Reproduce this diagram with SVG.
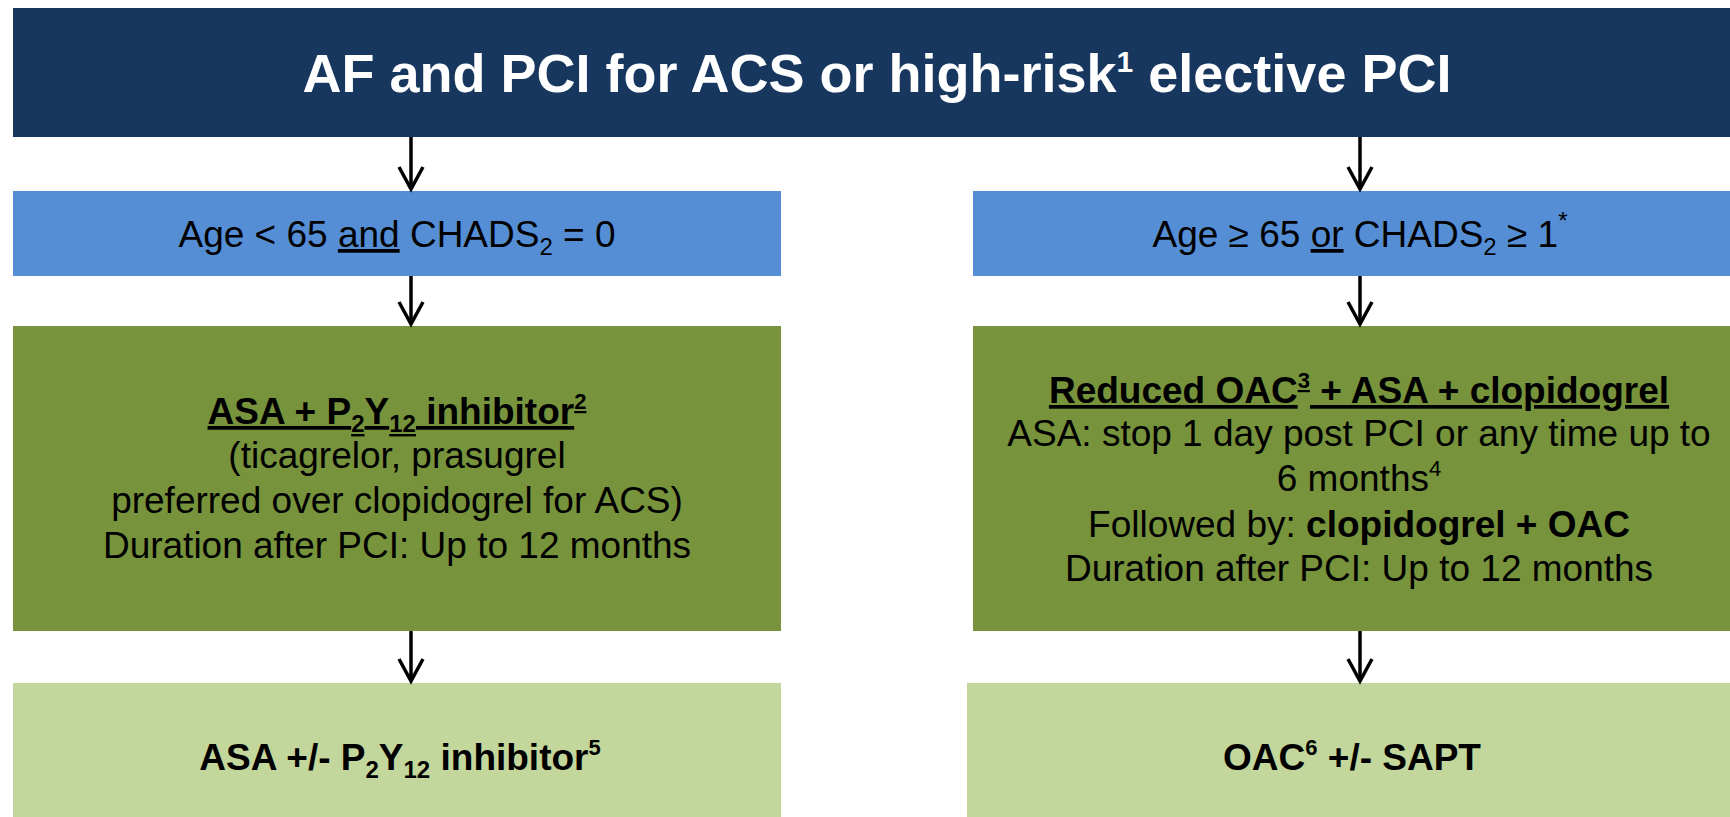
<svg xmlns="http://www.w3.org/2000/svg" width="1730" height="817" viewBox="0 0 1730 817">
<defs>
<style>
.t{font-family:"Liberation Sans",Arial,sans-serif;fill:#000;text-anchor:middle;font-size:37px}
.b{font-weight:bold}
.title{font-family:"Liberation Sans",Arial,sans-serif;fill:#fff;text-anchor:middle;font-size:54px;font-weight:bold}
.u{text-decoration:underline}
.conn{stroke:#000;stroke-width:3.5;fill:none}
</style>
<marker id="ah" viewBox="-26 -15 30 30" markerWidth="30" markerHeight="30" refX="0" refY="0" orient="auto" markerUnits="userSpaceOnUse">
<path d="M-22,-12 L0,0 L-22,12" fill="none" stroke="#000" stroke-width="3.5"/>
</marker>
</defs>
<rect width="1730" height="817" fill="#fff"/>

<g id="title">
<rect x="13" y="8" width="1730" height="129" fill="#17375E"/>
<text class="title" x="877" y="92">AF and PCI for ACS or high-risk<tspan font-size="30" dy="-20">1</tspan><tspan dy="20"> elective PCI</tspan></text>
</g>

<g id="cond-left">
<rect x="13" y="191" width="768" height="85" fill="#558ED5"/>
<text class="t" x="397" y="247">Age &lt; 65 <tspan class="u">and</tspan> CHADS<tspan font-size="24" dy="8">2</tspan><tspan dy="-8"> = 0</tspan></text>
</g>

<g id="cond-right">
<rect x="973" y="191" width="800" height="85" fill="#558ED5"/>
<text class="t" x="1360" y="247">Age ≥ 65 <tspan class="u">or</tspan> CHADS<tspan font-size="24" dy="8">2</tspan><tspan dy="-8"> ≥ 1</tspan><tspan font-size="24" dy="-18">*</tspan></text>
</g>

<g id="therapy-left">
<rect x="13" y="326" width="768" height="305" fill="#77933C"/>
<text class="t b u" x="397" y="424">ASA + P<tspan font-size="24" dy="8">2</tspan><tspan dy="-8">Y</tspan><tspan font-size="24" dy="8">12</tspan><tspan dy="-8"> inhibitor</tspan><tspan font-size="22" dy="-15">2</tspan></text>
<text class="t" x="397" y="468">(ticagrelor, prasugrel</text>
<text class="t" x="397" y="513">preferred over clopidogrel for ACS)</text>
<text class="t" x="397" y="558">Duration after PCI: Up to 12 months</text>
</g>

<g id="therapy-right">
<rect x="973" y="326" width="800" height="305" fill="#77933C"/>
<text class="t b u" x="1359" y="403">Reduced OAC<tspan font-size="22" dy="-15">3</tspan><tspan dy="15"> + ASA + clopidogrel</tspan></text>
<text class="t" x="1359" y="446">ASA: stop 1 day post PCI or any time up to</text>
<text class="t" x="1359" y="491">6 months<tspan font-size="22" dy="-15">4</tspan></text>
<text class="t" x="1359" y="537">Followed by: <tspan class="b">clopidogrel + OAC</tspan></text>
<text class="t" x="1359" y="581">Duration after PCI: Up to 12 months</text>
</g>

<g id="after-left">
<rect x="13" y="683" width="768" height="140" fill="#C3D69B"/>
<text class="t b" x="400" y="770">ASA +/- P<tspan font-size="24" dy="8">2</tspan><tspan dy="-8">Y</tspan><tspan font-size="24" dy="8">12</tspan><tspan dy="-8"> inhibitor</tspan><tspan font-size="22" dy="-15">5</tspan></text>
</g>

<g id="after-right">
<rect x="967" y="683" width="800" height="140" fill="#C3D69B"/>
<text class="t b" x="1352" y="770">OAC<tspan font-size="22" dy="-15">6</tspan><tspan dy="15"> +/- SAPT</tspan></text>
</g>

<g id="connectors">
<path class="conn" d="M411,137 V189" marker-end="url(#ah)"/>
<path class="conn" d="M1360,137 V189" marker-end="url(#ah)"/>
<path class="conn" d="M411,276 V324" marker-end="url(#ah)"/>
<path class="conn" d="M1360,276 V324" marker-end="url(#ah)"/>
<path class="conn" d="M411,631 V681" marker-end="url(#ah)"/>
<path class="conn" d="M1360,631 V681" marker-end="url(#ah)"/>
</g>
</svg>
